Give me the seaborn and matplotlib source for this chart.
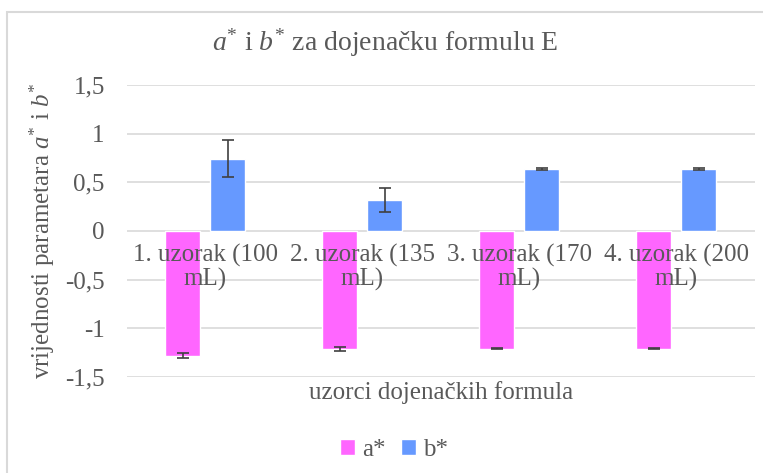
import pandas as pd
import matplotlib.pyplot as plt
import seaborn as sns
from matplotlib.patches import Rectangle

# podaci očitani s grafa
uzorci = ['1. uzorak (100\nmL)', '2. uzorak (135\nmL)', '3. uzorak (170\nmL)', '4. uzorak (200\nmL)']
a_vrijednosti = [-1.28, -1.21, -1.21, -1.21]
a_greske = [0.03, 0.02, 0.006, 0.006]
b_vrijednosti = [0.74, 0.32, 0.64, 0.64]
b_greske = [0.19, 0.12, 0.012, 0.012]
y_ticks = [-1.5, -1.0, -0.5, 0.0, 0.5, 1.0, 1.5]
y_tick_labels = ['-1,5', '-1', '-0,5', '0', '0,5', '1', '1,5']

sns.set_theme(style='white')
plt.rcParams['font.family'] = ['Liberation Serif', 'DejaVu Serif']
plt.rcParams['mathtext.fontset'] = 'custom'
plt.rcParams['mathtext.rm'] = 'Liberation Serif'
plt.rcParams['mathtext.it'] = 'Liberation Serif:italic'

siva = '#595959'
boje = {'a*': '#FF66FF', 'b*': '#6699FF'}

df = pd.DataFrame({
    'uzorak': uzorci * 2,
    'parametar': ['a*'] * 4 + ['b*'] * 4,
    'vrijednost': a_vrijednosti + b_vrijednosti,
    'greska': a_greske + b_greske,
})

fig = plt.figure(figsize=(7.63, 4.73), dpi=100)
ax = fig.add_axes([0.1664, 0.203, 0.8231, 0.6173])

sns.barplot(data=df, x='uzorak', y='vrijednost', hue='parametar', palette=boje,
            saturation=1, width=0.573, gap=0.222, errorbar=None, ax=ax, zorder=3)

# error barovi preko sredina stupaca
for cont, grp in zip(ax.containers, ['a*', 'b*']):
    sub = df[df['parametar'] == grp]
    xs = [p.get_x() + p.get_width() / 2 for p in cont.patches]
    ax.errorbar(xs, sub['vrijednost'], yerr=sub['greska'], fmt='none',
                ecolor='#404040', elinewidth=1.2, capsize=4, capthick=1.2, zorder=4)

ax.set_ylim(-1.5, 1.5)
ax.set_xlim(-0.5, 3.5)
ax.set_yticks(y_ticks)
ax.set_yticklabels(y_tick_labels)
ax.tick_params(axis='y', length=0, pad=16, labelsize=18, labelcolor=siva)
ax.set_xticks([])
ax.grid(axis='y', color='#d9d9d9', linewidth=1.2, zorder=0)
ax.set_axisbelow(True)
for s in ax.spines.values():
    s.set_visible(False)

for i, lab in enumerate(uzorci):
    ax.annotate(lab, xy=(i, 0), xytext=(0, -9), textcoords='offset points',
                ha='center', va='top', fontsize=18, color=siva, linespacing=1.05,
                zorder=6)

ax.set_xlabel('uzorci dojenačkih formula', fontsize=18, color=siva, labelpad=3)
ax.set_ylabel(r'vrijednosti parametara $a^{*}$ i $b^{*}$', fontsize=18, color=siva, labelpad=6)
fig.text(0.505, 0.91, r'$a^{*}$ i $b^{*}$ za dojenačku formulu E', ha='center', va='center',
         fontsize=20, color=siva)

leg = ax.legend(loc='center', bbox_to_anchor=(0.425, -0.25), ncol=2, frameon=False,
                fontsize=18, handlelength=0.6, handleheight=0.6, handletextpad=0.3,
                columnspacing=0.6)
for t in leg.get_texts():
    t.set_color(siva)

# okvir grafikona
fig.patches.append(Rectangle((7 / 763, -0.1), 1.2, 1 - 12 / 473 + 0.1, transform=fig.transFigure,
                             fill=False, edgecolor='#d9d9d9', linewidth=1.5))

fig.savefig('out.png', dpi=100)
